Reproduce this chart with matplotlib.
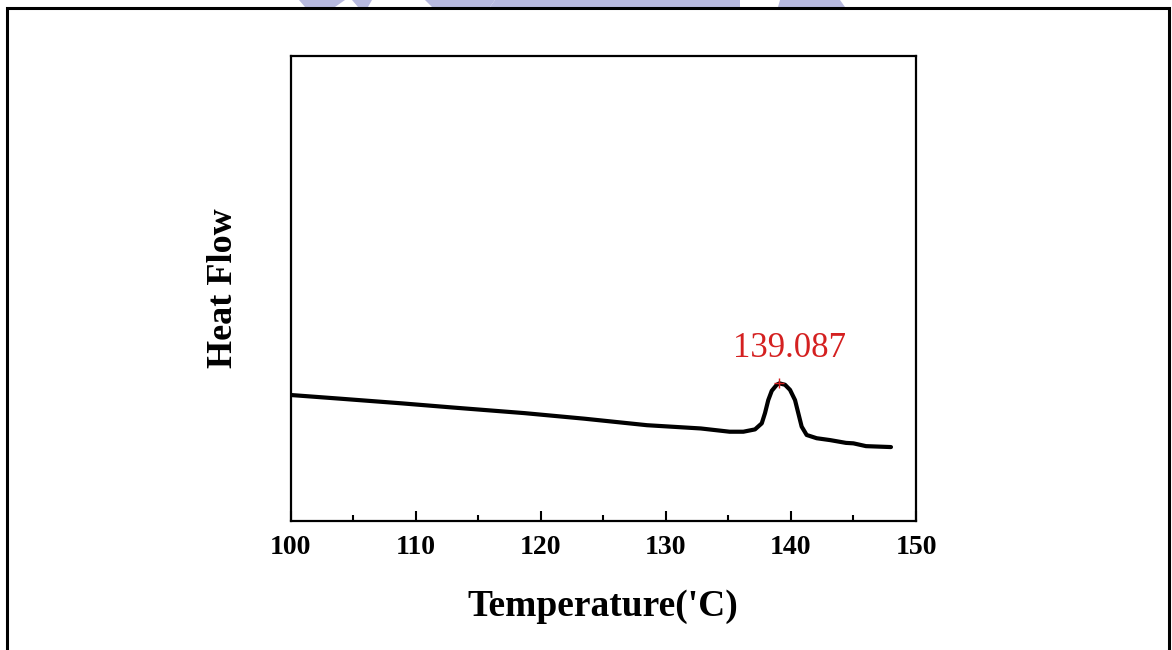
import matplotlib
matplotlib.use("Agg")
import matplotlib.pyplot as plt
from matplotlib.patches import Rectangle, Polygon
from matplotlib.ticker import MultipleLocator

# ---- data ----
temperature = [100.0, 104.0, 108.9, 113.0, 118.7, 123.5, 128.5, 132.8, 135.1, 136.2,
               137.13, 137.67, 137.93, 138.19, 138.47, 138.87, 139.087, 139.53,
               139.93, 140.33, 140.59, 140.86, 141.26, 142.06, 143.13, 144.4,
               145.0, 146.0, 147.0, 148.0]
heat_flow = [0.271, 0.263, 0.253, 0.244, 0.232, 0.220, 0.206, 0.199, 0.192, 0.192,
             0.197, 0.210, 0.232, 0.260, 0.280, 0.293, 0.296, 0.293,
             0.282, 0.260, 0.232, 0.203, 0.185, 0.178, 0.174, 0.168,
             0.167, 0.161, 0.160, 0.159]
peak_temp = 139.087
peak_flow = 0.296
peak_label = "139.087"
x_ticks = [100, 110, 120, 130, 140, 150]
x_label = "Temperature('C)"
y_label = "Heat Flow"

W, H = 1172, 650
fig = plt.figure(figsize=(W / 100, H / 100), dpi=100)
fig.patch.set_facecolor("white")

# faint watermark sliver at top
wm = "#b8badf"
for pts in [
    [(299, 0), (345, 0), (335, 7), (305, 7)],
    [(352, 0), (372, 0), (368, 7), (358, 7)],
    [(425, 0), (495, 0), (490, 7), (432, 7)],
    [(495, 0), (740, 0), (740, 7), (490, 7)],
    [(780, 0), (840, 0), (845, 7), (778, 7)],
]:
    fig.patches.append(Polygon([(x / W, 1 - y / H) for x, y in pts], closed=True,
                               transform=fig.transFigure, facecolor=wm,
                               edgecolor="none", zorder=0))

# outer frame
fig.patches.append(Rectangle((6.5 / W, -0.05), (1168.5 - 6.5) / W, 1.05 - 8.5 / H,
                             transform=fig.transFigure, fill=False,
                             edgecolor="black", linewidth=2.2, zorder=1))

ax = fig.add_axes([290.5 / W, 1 - 521 / H, (916 - 290.5) / W, (521 - 56) / H])
ax.plot(temperature, heat_flow, color="black", linewidth=3.0,
        solid_capstyle="round", solid_joinstyle="round")
ax.plot([peak_temp], [peak_flow], marker="+", color="#d42020", markersize=7,
        markeredgewidth=1.0, zorder=5)
ax.text(139.9, 0.353, peak_label, color="#d42020", fontsize=25,
        family="Liberation Serif", ha="center", va="baseline")

ax.set_xlim(100, 150)
ax.set_ylim(0, 1)
ax.set_xticks(x_ticks)
ax.xaxis.set_minor_locator(MultipleLocator(5))
ax.set_xticklabels([str(t) for t in x_ticks], fontsize=20,
                   family="Liberation Serif", fontweight="bold")
ax.tick_params(axis="x", which="major", direction="in", length=7, width=1.5,
               pad=10, top=False)
ax.tick_params(axis="x", which="minor", direction="in", length=4, width=1.5,
               top=False)
ax.set_yticks([])
for s in ax.spines.values():
    s.set_linewidth(1.6)

ax.set_xlabel(x_label, fontsize=27, family="Liberation Serif",
              fontweight="bold", labelpad=21)
ax.set_ylabel(y_label, fontsize=26, family="Liberation Serif",
              fontweight="bold", labelpad=36)

fig.savefig("out.png", dpi=100, facecolor="white")
